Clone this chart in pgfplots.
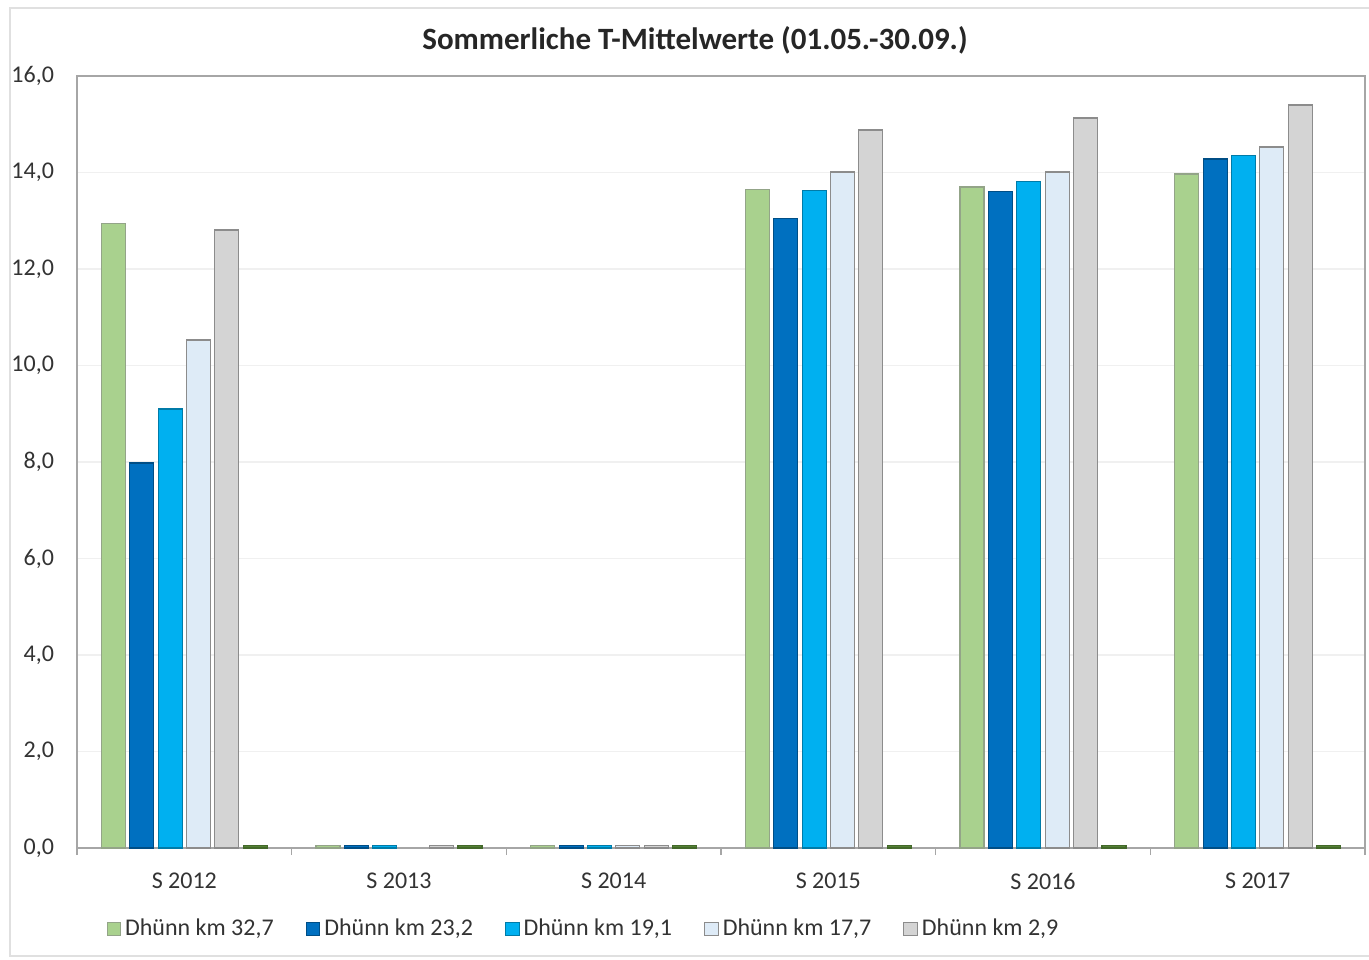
\documentclass[border=0pt]{standalone}
\usepackage{fontspec}
\setmainfont{Carlito}
\usepackage{pgfplots}
\pgfplotsset{compat=1.18}

\definecolor{cGreen}{HTML}{A9D18E}
\definecolor{cDarkBlue}{HTML}{0070C0}
\definecolor{cBlue}{HTML}{00B0F0}
\definecolor{cPale}{HTML}{DEEBF7}
\definecolor{cGray}{HTML}{D4D4D4}
\definecolor{cDarkGreen}{HTML}{548235}
\definecolor{cEdge}{HTML}{8C8C8C}
\definecolor{cAxis}{HTML}{A6A6A6}

\begin{document}
\begin{tikzpicture}
\useasboundingbox (-38.5pt,-55.5pt) rectangle (646pt,424pt);
% outer chart frame
\draw[black!12, line width=0.9pt] (646pt,420pt) -- (-33.5pt,420pt) -- (-33.5pt,-54pt) -- (646pt,-54pt);
\begin{axis}[
  at={(0pt,0pt)}, anchor=south west,
  scale only axis, width=644pt, height=386pt,
  xmin=-0.5, xmax=5.5, ymin=0, ymax=16,
  xtick={0,...,5},
  xticklabels={S 2012,S 2013,S 2014,S 2015,S 2016,S 2017},
  minor xtick={-0.5,0.5,...,5.5},
  ytick={0,2,...,16},
  xtick pos=bottom, ytick pos=left,
  major tick length=0pt, minor tick length=3.5pt, tick align=outside,
  minor tick style={cAxis, line width=0.6pt},
  axis line style={cAxis, line width=0.7pt},
  ymajorgrids, major grid style={black!6, line width=0.6pt},
  /pgf/number format/.cd, fixed, fixed zerofill, precision=1, use comma, assume math mode=true,
  /pgfplots/.cd,
  tick label style={font=\fontsize{12}{14}\selectfont, text=black!80},
  yticklabel style={xshift=-8pt},
  xticklabel style={yshift=-9pt},
  ybar, bar width=0.112,
  every axis plot/.append style={line width=0.6pt},
  legend columns=5,
  legend style={at={(axis description cs:0.394,-0.105)}, anchor=center,
    draw=none, fill=none, font=\fontsize{12}{14}\selectfont, text=black!80,
    /tikz/every even column/.append style={column sep=14pt}},
  legend image code/.code={\draw[#1, line width=0.5pt] (0pt,-3.4pt) rectangle (6.8pt,3.4pt);},
]
\addplot[fill=cGreen, draw=cGreen!60!black!70, bar shift=-0.331]
  coordinates {(0,12.95) (1,0.06) (2,0.06) (3,13.64) (4,13.70) (5,13.97)};
\addlegendentry{Dhünn km 32,7}
\addplot[fill=cDarkBlue, draw=cDarkBlue!70!black, bar shift=-0.198]
  coordinates {(0,7.98) (1,0.06) (2,0.06) (3,13.04) (4,13.60) (5,14.28)};
\addlegendentry{Dhünn km 23,2}
\addplot[fill=cBlue, draw=cBlue!70!black, bar shift=-0.066]
  coordinates {(0,9.10) (1,0.06) (2,0.06) (3,13.62) (4,13.82) (5,14.36)};
\addlegendentry{Dhünn km 19,1}
\addplot[fill=cPale, draw=cEdge, bar shift=0.066]
  coordinates {(0,10.53) (2,0.06) (3,14.01) (4,14.01) (5,14.53)};
\addlegendentry{Dhünn km 17,7}
\addplot[fill=cGray, draw=cEdge, bar shift=0.198]
  coordinates {(0,12.81) (1,0.06) (2,0.06) (3,14.88) (4,15.13) (5,15.40)};
\addlegendentry{Dhünn km 2,9}
\addplot[fill=cDarkGreen, draw=cDarkGreen!80!black, bar shift=0.331, forget plot]
  coordinates {(0,0.05) (1,0.06) (2,0.05) (3,0.05) (4,0.05) (5,0.05)};
\end{axis}
\node[font=\bfseries\fontsize{15.5}{18}\selectfont, text=black!85] at (309pt,404pt)
  {Sommerliche T-Mittelwerte (01.05.-30.09.)};
\end{tikzpicture}
\end{document}
